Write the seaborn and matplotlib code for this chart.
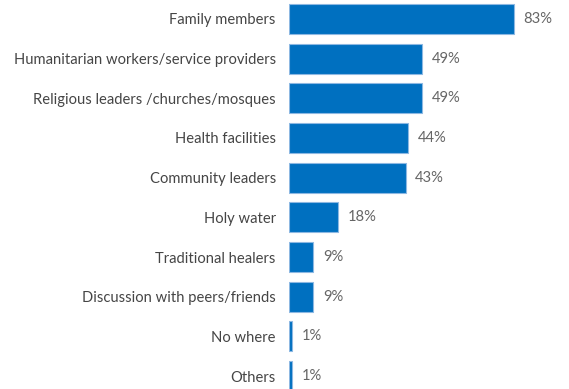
import matplotlib
matplotlib.use("Agg")
import matplotlib.pyplot as plt
import seaborn as sns
import pandas as pd

categories = [
    "Family members",
    "Humanitarian workers/service providers",
    "Religious leaders /churches/mosques",
    "Health facilities",
    "Community leaders",
    "Holy water",
    "Traditional healers",
    "Discussion with peers/friends",
    "No where",
    "Others",
]
values = [83, 49, 49, 44, 43, 18, 9, 9, 1, 1]
value_labels = [f"{v}%" for v in values]

df = pd.DataFrame({"source": categories, "pct": values})

sns.set_theme(style="white")
plt.rcParams["font.family"] = ["Lato", "DejaVu Sans"]

fig = plt.figure(figsize=(5.69, 3.89), dpi=100)
ax = fig.add_axes([289 / 569, 0, 271 / 569, 1])

sns.barplot(data=df, x="pct", y="source", orient="h", color="#0070C0",
            saturation=1, width=0.76, edgecolor="#8DB8E2", linewidth=0.8, ax=ax)

for i, (v, lab) in enumerate(zip(values, value_labels)):
    ax.annotate(lab, xy=(v, i), xytext=(7, 0), textcoords="offset points",
                ha="left", va="center", fontsize=10.6, color="#666666")

ax.set_xlim(0, 100)
ax.set_ylim(9 + 13 / 39.67, -19 / 39.67)
ax.set_xlabel("")
ax.set_ylabel("")
ax.set_xticks([])
ax.tick_params(axis="y", length=0, pad=9.5, labelsize=10.6, labelcolor="#454545")
for s in ax.spines.values():
    s.set_visible(False)

fig.savefig("out.png", dpi=100)
